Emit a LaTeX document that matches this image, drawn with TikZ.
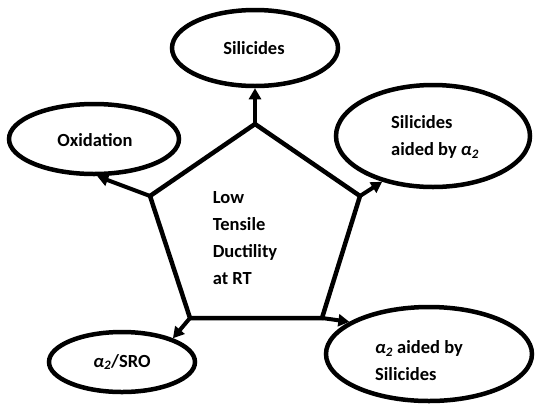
\documentclass[tikz,border=0pt]{standalone}
\usepackage{fontspec}
\setmainfont{Carlito}
\usetikzlibrary{shapes.geometric,arrows.meta}
\newcommand\atwo{{\itshape α\textsubscript{2}}}
\begin{document}
\begin{tikzpicture}[x=1pt,y=-1pt,
  every node/.style={font=\bfseries\fontsize{18.5}{27}\selectfont},
  oval/.style={ellipse,draw,line width=4.5pt,inner sep=0pt},
  edge/.style={line width=4.5pt,line join=miter},
  arr/.style={line width=4pt,-{Triangle[length=11pt,width=12pt]}},
  lbl/.style={align=left,inner sep=0pt}]
\path[use as bounding box] (0,0) rectangle (537,405);
% ellipses
\node[oval,minimum width=166pt,minimum height=76pt] (sil) at (255,48) {};
\node[lbl] at (254,48) {Silicides};
\node[oval,minimum width=170pt,minimum height=70pt] (ox) at (94,139) {};
\node[lbl] at (95,140) {Oxidation};
\node[oval,minimum width=194pt,minimum height=102pt] (sa) at (433,136) {};
\node[lbl] at (435,137) {Silicides\\aided by \atwo};
\node[oval,minimum width=146pt,minimum height=60pt] (sro) at (122,362) {};
\node[lbl] at (122,362) {\atwo/SRO};
\node[oval,minimum width=206pt,minimum height=94pt] (aa) at (429,354) {};
\node[lbl] at (419,361) {\atwo{} aided by\\Silicides};
% pentagon
\coordinate (pt) at (255,124);
\coordinate (pl) at (150,196);
\coordinate (pr) at (360,196);
\coordinate (pbl) at (190,318);
\coordinate (pbr) at (322,318);
\draw[edge] (pt) -- (pr) -- (pbr) -- (pbl) -- (pl) -- cycle;
\node[lbl] (core) at (245,238) {Low\\Tensile\\Ductility\\at RT};
% arrows
\draw[arr] (pt) -- (sil.south);
\draw[arr] (pl) -- (ox.-85);
\draw[arr] (pr) -- (sa.222);
\draw[arr] (pbl) -- (sro.25);
\draw[arr] (pbr) -- (aa.158);
\end{tikzpicture}
\end{document}
